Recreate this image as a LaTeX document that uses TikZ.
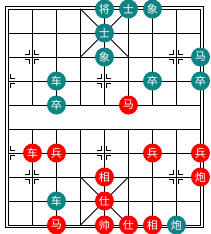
\documentclass[tikz,border=0pt]{standalone}
\usepackage{fontspec}
\newfontfamily\cjk{Noto Sans CJK SC}
\usepackage{tikz}
\usetikzlibrary{positioning}
\definecolor{blkside}{RGB}{16,132,132}
\definecolor{redside}{RGB}{255,0,0}

\begin{document}
\begin{tikzpicture}[
  x=24pt, y=-24pt,
  every node/.style={font=\cjk\fontsize{11}{11}\selectfont},
  piece/.style={circle, fill=#1, text=white, minimum size=19pt, inner sep=0pt},
  gridline/.style={line width=1pt, line cap=rect}
]
\useasboundingbox (-0.354,-0.375) rectangle (8.396,9.375);
% frame
\draw[line width=1pt] (-0.11,-0.11) rectangle (8.11,9.11);
% board lines
\foreach \r in {0,...,9} \draw[gridline] (0,\r) -- (8,\r);
\draw[gridline] (0,0) -- (0,9) (8,0) -- (8,9);
\foreach \c in {1,...,7} \draw[gridline] (\c,0) -- (\c,4) (\c,5) -- (\c,9);
% palaces
\draw[gridline] (3,0) -- (5,2) (5,0) -- (3,2) (3,7) -- (5,9) (5,7) -- (3,9);
% position marks
\foreach \c/\r/\sides in {1/2/{-1,1},7/2/{-1,1},1/7/{-1,1},7/7/{-1,1},
    2/3/{-1,1},4/3/{-1,1},6/3/{-1,1},2/6/{-1,1},4/6/{-1,1},6/6/{-1,1},
    0/3/{1},0/6/{1},8/3/{-1},8/6/{-1}}
  \foreach \sx in \sides
    \foreach \sy in {-1,1}
      \draw[line width=1pt, shift={(\c,\r)}]
        (\sx*2.5pt,\sy*7pt) -- (\sx*2.5pt,\sy*2.5pt) -- (\sx*7pt,\sy*2.5pt);

% black pieces
\node[piece=blkside] (bking)  at (4,0) {将};
\node[piece=blkside] (badv1)  at (5,0) {士};
\node[piece=blkside] (beleA)  at (6,0) {象};
\node[piece=blkside] (badv2)  at (4,1) {士};
\node[piece=blkside] (beleB)  at (4,2) {象};
\node[piece=blkside] (bhorse) at (8,2) {马};
\node[piece=blkside] (brookA) at (2,3) {车};
\node[piece=blkside] (bpawnA) at (6,3) {卒};
\node[piece=blkside] (bpawnB) at (8,3) {卒};
\node[piece=blkside] (bpawnC) at (2,4) {卒};
\node[piece=blkside] (brookB) at (2,8) {车};
\node[piece=blkside] (bcannon) at (7,9) {炮};

% red pieces
\node[piece=redside] (rhorseA) at (5,4) {马};
\node[piece=redside] (rrook)   at (1,6) {车};
\node[piece=redside] (rpawnA)  at (2,6) {兵};
\node[piece=redside] (rpawnB)  at (6,6) {兵};
\node[piece=redside] (rpawnC)  at (8,6) {兵};
\node[piece=redside] (releA)   at (4,7) {相};
\node[piece=redside] (rcannon) at (8,7) {炮};
\node[piece=redside] (radvA)   at (4,8) {仕};
\node[piece=redside] (rhorseB) at (2,9) {马};
\node[piece=redside] (rking)   at (4,9) {帅};
\node[piece=redside] (radvB)   at (5,9) {仕};
\node[piece=redside] (releB)   at (6,9) {相};
\end{tikzpicture}
\end{document}
